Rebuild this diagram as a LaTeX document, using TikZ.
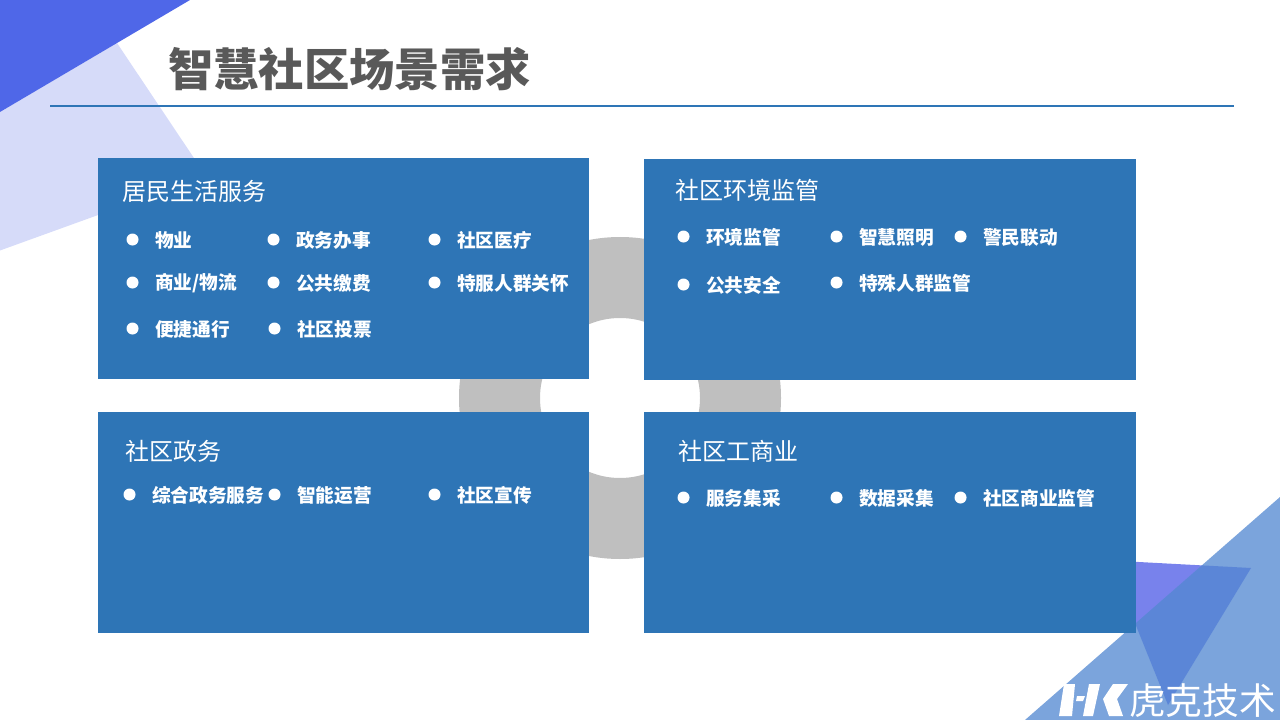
\documentclass[tikz,border=0pt]{standalone}
\usepackage{fontspec}
\setmainfont{Noto Sans CJK SC}
\usetikzlibrary{positioning}
\definecolor{cardblue}{HTML}{2E75B6}
\definecolor{darktri}{HTML}{4F67E8}
\definecolor{paletri}{HTML}{D6DBF9}
\definecolor{purpletri}{HTML}{7882EC}
\definecolor{bluetri}{RGB}{83,136,209}
\definecolor{ringgray}{HTML}{BFBFBF}
\definecolor{titlegray}{HTML}{595959}
\tikzstyle{card} = [rectangle, fill=cardblue, anchor=north west, inner sep=0pt,
    minimum width=368.6pt, minimum height=165.6pt]
\tikzstyle{heading} = [anchor=west, inner sep=0pt, text=white, font=\fontsize{18pt}{20pt}\selectfont]
\tikzstyle{entry} = [anchor=west, inner sep=0pt, text=white, font=\fontsize{14pt}{16pt}\selectfont\bfseries]
\tikzstyle{dot} = [circle, fill=white, inner sep=0pt, minimum size=9pt, xshift=0.4pt, yshift=-0.4pt]
\tikzstyle{logopart} = [fill=white, draw=none]

\begin{document}
\begin{tikzpicture}[x=0.75pt, y=-0.75pt]
  \useasboundingbox (0,0) rectangle (1280,720);
  % corner shapes
  \fill [paletri] (0,112) -- (117,43) -- (206,176) -- (0,250.5) -- cycle;
  \fill [darktri] (0,0) -- (190,0) -- (0,112) -- cycle;
  \fill [purpletri] (1120,561) -- (1251,568) -- (1168,705) -- (1120,586) -- cycle;
  \fill [bluetri, fill opacity=0.77] (1280,497) -- (1280,720) -- (1025,720) -- cycle;
  % ring behind the cards
  \fill [ringgray, even odd rule] (620,398) circle [radius=161] (620,398) circle [radius=80];

  \node [anchor=west, inner sep=0pt, text=titlegray, font=\fontsize{34pt}{38pt}\selectfont\bfseries] (title) at (168,69) {智慧社区场景需求};
  \coordinate (ruleL) at (50,106.5);
  \coordinate (ruleR) at (1234,106.5);
  \draw [cardblue, line width=1.5pt] (ruleL) -- (ruleR);

  \node [card] (life) at (97.5,158) {};
  \node [card] (env) at (644,159) {};
  \node [card] (gov) at (97.5,412) {};
  \node [card] (biz) at (644,412) {};

  % resident services
  \node [heading] (lifeT) at (122,191) {居民生活服务};
  \node [dot] (a1) at (132,239) {};
  \node [entry] (a1t) at (155,240) {物业};
  \node [dot] (a2) at (273,239) {};
  \node [entry] (a2t) at (296,240) {政务办事};
  \node [dot] (a3) at (434,239) {};
  \node [entry] (a3t) at (457,240) {社区医疗};
  \node [dot] (a4) at (132,282) {};
  \node [entry] (a4t) at (155,283) {商业/物流};
  \node [dot] (a5) at (273,282) {};
  \node [entry] (a5t) at (296,283) {公共缴费};
  \node [dot] (a6) at (434,282) {};
  \node [entry] (a6t) at (457,283) {特服人群关怀};
  \node [dot] (a7) at (132,328) {};
  \node [entry] (a7t) at (155,329) {便捷通行};
  \node [dot] (a8) at (274,328) {};
  \node [entry] (a8t) at (297,329) {社区投票};

  % environment
  \node [heading] (envT) at (675,190) {社区环境监管};
  \node [dot] (b1) at (683,236) {};
  \node [entry] (b1t) at (706,237) {环境监管};
  \node [dot] (b2) at (836,236) {};
  \node [entry] (b2t) at (859,237) {智慧照明};
  \node [dot] (b3) at (960,236) {};
  \node [entry] (b3t) at (983,237) {警民联动};
  \node [dot] (b4) at (683,284) {};
  \node [entry] (b4t) at (706,285) {公共安全};
  \node [dot] (b5) at (836,282) {};
  \node [entry] (b5t) at (859,283) {特殊人群监管};

  % government
  \node [heading] (govT) at (125,451) {社区政务};
  \node [dot] (c1) at (129,494) {};
  \node [entry] (c1t) at (152,495) {综合政务服务};
  \node [dot] (c2) at (274,494) {};
  \node [entry] (c2t) at (297,495) {智能运营};
  \node [dot] (c3) at (434,494) {};
  \node [entry] (c3t) at (457,495) {社区宣传};

  % business
  \node [heading] (bizT) at (678,451) {社区工商业};
  \node [dot] (d1) at (683,497) {};
  \node [entry] (d1t) at (706,498) {服务集采};
  \node [dot] (d2) at (836,497) {};
  \node [entry] (d2t) at (859,498) {数据采集};
  \node [dot] (d3) at (960,497) {};
  \node [entry] (d3t) at (983,498) {社区商业监管};

  % logo
  \fill [logopart] (1064,684) -- (1075,684) -- (1072,716) -- (1059,716) -- cycle;
  \fill [logopart] (1077,696) -- (1085,696) -- (1083,701) -- (1076,701) -- cycle;
  \fill [logopart] (1089,684) -- (1100,684) -- (1093,716) -- (1083,716) -- cycle;
  \fill [logopart] (1103,699) -- (1113,684) -- (1128,684) -- (1117,699) -- (1123,716) -- (1109,716) -- cycle;
  \node [anchor=west, inner sep=0pt, text=white, font=\fontsize{27.5pt}{30pt}\selectfont] (logo) at (1129,701) {虎克技术};
\end{tikzpicture}
\end{document}
